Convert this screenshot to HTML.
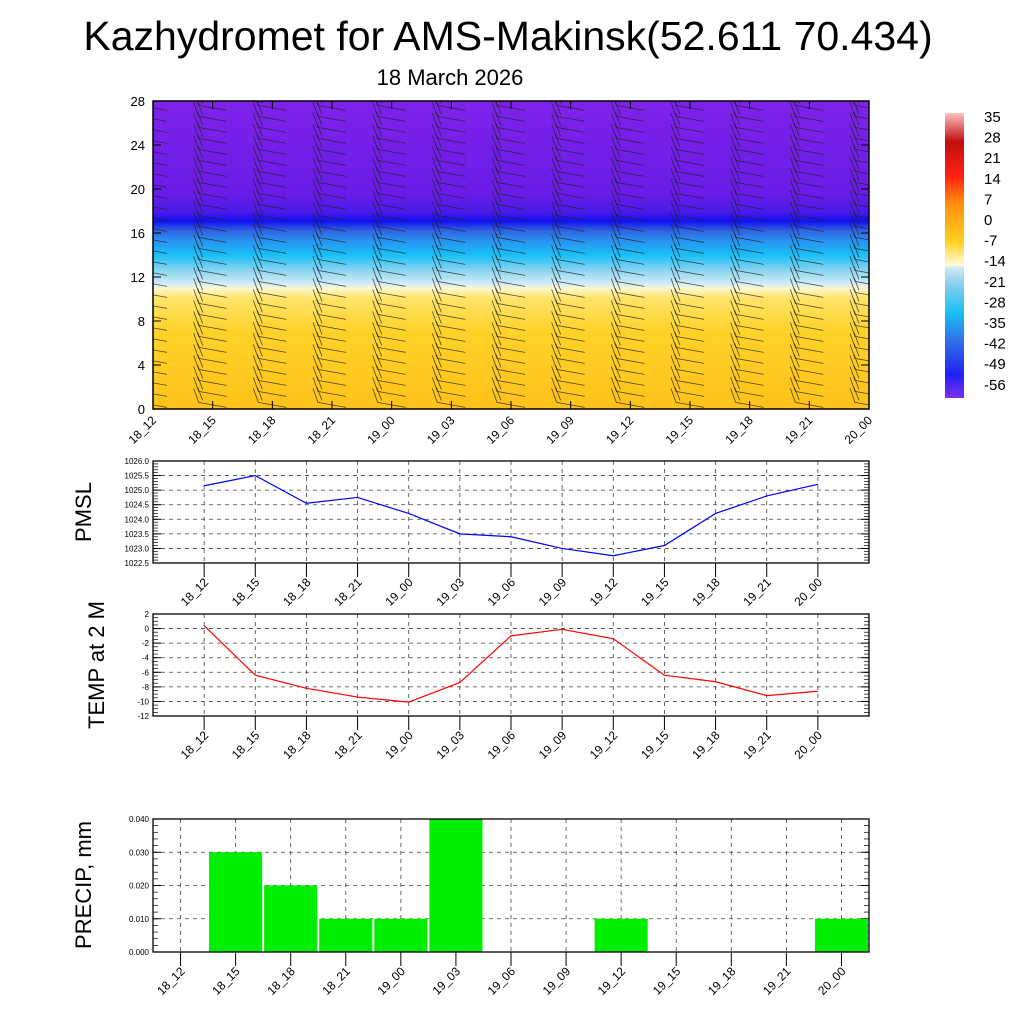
<!DOCTYPE html>
<html><head><meta charset="utf-8"><style>
html,body{margin:0;padding:0;background:#fff}
svg{display:block;font-family:"Liberation Sans",sans-serif}
</style></head><body>
<svg id="s" width="1024" height="1024" viewBox="0 0 1024 1024">
<defs>
<clipPath id="clipTop"><rect x="153" y="101" width="716" height="308"/></clipPath>
<linearGradient id="tg" x1="0" y1="1" x2="0" y2="0">
<stop offset="0" stop-color="#ffc21a"/>
<stop offset="0.25" stop-color="#ffd228"/>
<stop offset="0.36" stop-color="#ffe46a"/>
<stop offset="0.39" stop-color="#fff8c8"/>
<stop offset="0.405" stop-color="#d6eef6"/>
<stop offset="0.45" stop-color="#8ad4f0"/>
<stop offset="0.5" stop-color="#18c0f8"/>
<stop offset="0.55" stop-color="#2a8ef0"/>
<stop offset="0.58" stop-color="#3060e0"/>
<stop offset="0.61" stop-color="#1010f0"/>
<stop offset="0.64" stop-color="#4a1ae8"/>
<stop offset="0.7" stop-color="#6a1ce8"/>
<stop offset="1" stop-color="#7e22ea"/>
</linearGradient>
<linearGradient id="cg" x1="0" y1="1" x2="0" y2="0">
<stop offset="0" stop-color="#8030f0"/>
<stop offset="0.08" stop-color="#2020f0"/>
<stop offset="0.2" stop-color="#3070e8"/>
<stop offset="0.3" stop-color="#18c0f8"/>
<stop offset="0.4" stop-color="#8ad0ec"/>
<stop offset="0.46" stop-color="#d6ecf6"/>
<stop offset="0.465" stop-color="#fffce0"/>
<stop offset="0.55" stop-color="#ffd020"/>
<stop offset="0.68" stop-color="#ff9010"/>
<stop offset="0.78" stop-color="#ff2010"/>
<stop offset="0.9" stop-color="#c01010"/>
<stop offset="1" stop-color="#ffc0c0"/>
</linearGradient>
</defs>
<text x="508" y="50" font-size="41" text-anchor="middle">Kazhydromet for AMS-Makinsk(52.611 70.434)</text>
<text x="450" y="85" font-size="22" text-anchor="middle">18 March 2026</text>
<rect x="153" y="101" width="716" height="308" fill="url(#tg)"/>
<g id="barbs" clip-path="url(#clipTop)"></g>
<rect x="153" y="101" width="716" height="308" fill="none" stroke="#000" stroke-width="1.5"/>
<g id="topax"></g>
<rect x="945" y="113" width="19" height="285" fill="url(#cg)"/>
<g id="cb"></g>
<g id="p1"></g>
<g id="p2"></g>
<g id="p3"></g>
<text transform="translate(91,512) rotate(-90)" font-size="22" text-anchor="middle">PMSL</text>
<text transform="translate(104,665) rotate(-90)" font-size="22" text-anchor="middle">TEMP at 2 M</text>
<text transform="translate(91,885) rotate(-90)" font-size="22" text-anchor="middle">PRECIP, mm</text>
</svg>
<script>
const times=["18_12","18_15","18_18","18_21","19_00","19_03","19_06","19_09","19_12","19_15","19_18","19_21","20_00"];
const pmsl=[1025.15,1025.5,1024.55,1024.75,1024.2,1023.5,1023.4,1023.0,1022.75,1023.1,1024.2,1024.8,1025.2];
const temp=[0.4,-6.4,-8.2,-9.4,-10.1,-7.4,-1.0,-0.1,-1.4,-6.4,-7.3,-9.2,-8.6];
const precip=[0,0.03,0.02,0.01,0.01,0.04,0,0,0.01,0,0,0,0.01];
const topTicks=[0,4,8,12,16,20,24,28];
const cbLabels=["35","28","21","14","7","0","-7","-14","-21","-28","-35","-42","-49","-56"];
const pmslTicks=[1022.5,1023.0,1023.5,1024.0,1024.5,1025.0,1025.5,1026.0];
const tempTicks=[-12,-10,-8,-6,-4,-2,0,2];
const precipTicks=[0,0.01,0.02,0.03,0.04];
const NS="http://www.w3.org/2000/svg";
function mk(p,t,a){const e=document.createElementNS(NS,t);for(const k in a)e.setAttribute(k,a[k]);p.appendChild(e);return e;}
const L=153,R=869;
const topAx=document.getElementById('topax');
const tx=i=>L+i*(R-L)/12, ty=v=>409-v*(308/28);
topTicks.forEach(v=>{
 const y=ty(v);
 const l=mk(topAx,'line',{x1:L,y1:y,x2:L+8,y2:y,stroke:'#000'});
 
 
 mk(topAx,'line',{x1:R-8,y1:y,x2:R,y2:y,stroke:'#000'});
 const t=mk(topAx,'text',{x:L-8,y:y+5,'font-size':13,'text-anchor':'end'});t.textContent=v;
 
 
});
times.forEach((s,i)=>{
 const x=tx(i);
 mk(topAx,'line',{x1:x,y1:409,x2:x,y2:401,stroke:'#000'});
 mk(topAx,'line',{x1:x,y1:101,x2:x,y2:109,stroke:'#000'});
 const t=mk(topAx,'text',{transform:`translate(${x+4},${421}) rotate(-45)`,'font-size':12,'text-anchor':'end'});t.textContent=s;
 
 
});
const bg=document.getElementById('barbs');
for(let i=0;i<13;i++){const cx=tx(i);for(let k=0;k<28;k++){const y=ty(k+0.6);
 const b=mk(bg,'polyline',{points:`${cx+14},${y+5} ${cx-14},${y} ${cx-19},${y-14}`,fill:'none',stroke:'#222','stroke-width':0.8,opacity:0.8});
 
 
 mk(bg,'line',{x1:cx-10,y1:y-2,x2:cx-15,y2:y-15,stroke:'#222','stroke-width':0.8,opacity:0.8});
}}
const cb=document.getElementById('cb');
cbLabels.forEach((s,i)=>{const t=mk(cb,'text',{x:984,y:122+i*20.6,'font-size':15});t.textContent=s;
 
 });
function panel(id,pt,bot,ticks,vals,fmt,color,bar,minor){
 const g=document.getElementById(id);
 const lo=ticks[0],hi=ticks[ticks.length-1];
 const y=v=>bot-(v-lo)/(hi-lo)*(bot-pt);
 const step=(R-L)/(bar?13:14);
 const x=i=>bar?L+(i+0.5)*step:L+(i+1)*step;
 ticks.forEach(v=>{
  if(v!==lo&&v!==hi)mk(g,'line',{x1:L,y1:y(v),x2:R,y2:y(v),stroke:'#444','stroke-dasharray':'4,4','stroke-width':0.8});
  mk(g,'line',{x1:L,y1:y(v),x2:L+8,y2:y(v),stroke:'#000'});mk(g,'line',{x1:R-8,y1:y(v),x2:R,y2:y(v),stroke:'#000'});
  const t=mk(g,'text',{x:L-4,y:y(v)+3,'font-size':8,'text-anchor':'end'});t.textContent=fmt(v);
  
  
 });
 for(let k=1;k<minor;k++){const yy=bot-k*(bot-pt)/minor;mk(g,'line',{x1:L,y1:yy,x2:L+5,y2:yy,stroke:'#000','stroke-width':0.7});mk(g,'line',{x1:R-5,y1:yy,x2:R,y2:yy,stroke:'#000','stroke-width':0.7});}
 times.forEach((s,i)=>{
  mk(g,'line',{x1:x(i),y1:pt,x2:x(i),y2:bot,stroke:'#444','stroke-dasharray':'4,4','stroke-width':0.8});
  mk(g,'line',{x1:x(i),y1:bot,x2:x(i),y2:bot+14,stroke:'#000'});
  const t=mk(g,'text',{transform:`translate(${x(i)+5},${bot+20}) rotate(-45)`,'font-size':12,'text-anchor':'end'});t.textContent=s;
  
  
 });
 if(bar){vals.forEach((v,i)=>{if(v<=0)return;const r=mk(g,'rect',{x:x(i)-step/2+1,y:y(v),width:step-2,height:bot-y(v),fill:'#00ee00'});
  
  });}
 else{const p=mk(g,'polyline',{points:vals.map((v,i)=>x(i)+','+y(v)).join(' '),fill:'none',stroke:color,'stroke-width':1.2});
  
  }
 mk(g,'rect',{x:L,y:pt,width:R-L,height:bot-pt,fill:'none',stroke:'#000','stroke-width':1.3});
}
panel('p1',461,563,pmslTicks,pmsl,v=>v.toFixed(1),'#0000ff',false,35);
panel('p2',614,716,tempTicks,temp,v=>String(v),'#ff0000',false,28);
panel('p3',819,952,precipTicks,precip,v=>v.toFixed(3),'',true,20);
</script>
</body></html>
